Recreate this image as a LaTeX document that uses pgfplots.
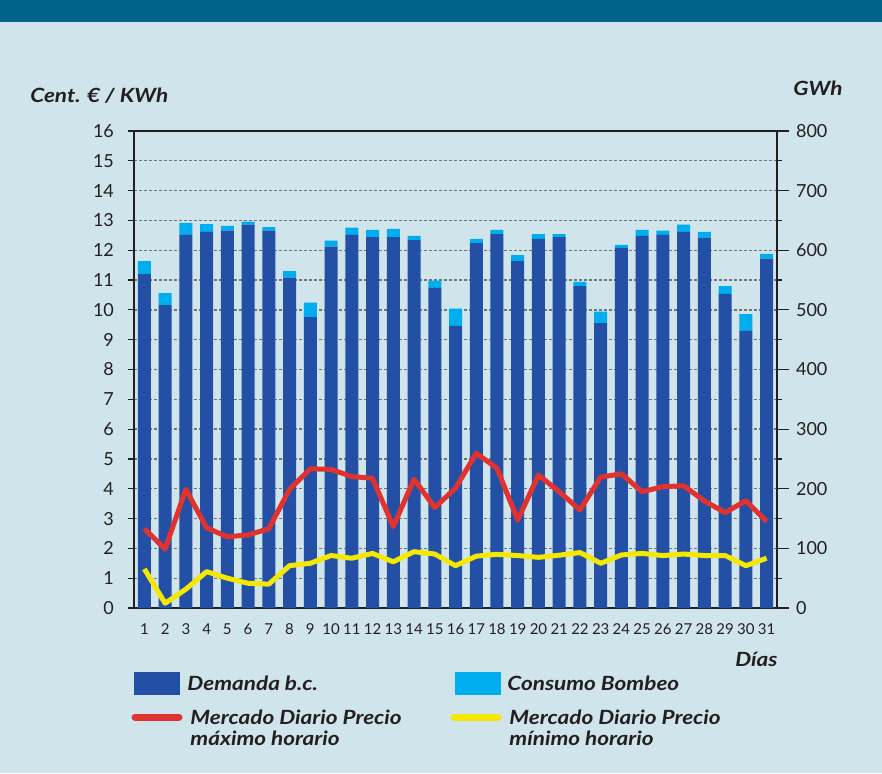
\documentclass[border=0pt]{standalone}
\usepackage{fontspec}
\setmainfont{Lato}
\newfontfamily\titlefont[FakeStretch=1.15]{Lato}
\usepackage{pgfplots}
\pgfplotsset{compat=1.18}
\definecolor{bgblue}{RGB}{208,228,236}
\definecolor{band}{RGB}{0,100,137}
\definecolor{demanda}{RGB}{35,80,165}
\definecolor{bombeo}{RGB}{0,174,239}
\definecolor{pmax}{RGB}{224,50,46}
\definecolor{pmin}{RGB}{245,232,0}
\definecolor{txt}{RGB}{35,31,32}
\definecolor{gridc}{RGB}{112,116,120}

% GWh por dia
\pgfplotstableread{
dia demanda bombeo
1 560 22
2 508 20
3 626 20
4 631 13
5 633 8
6 643 5
7 633 6
8 554 11
9 488 24
10 606 10
11 626 12
12 622 12
13 622 14
14 617 7
15 537 12
16 473 29
17 612 7
18 627 7
19 582 10
20 619 8
21 622 5
22 540 7
23 478 19
24 604 5
25 624 10
26 626 7
27 631 12
28 621 10
29 527 13
30 465 28
31 586 8
}\energia

% cent. euro / kWh
\pgfplotstableread{
dia pmax pmin
1 2.66 1.31
2 1.98 0.16
3 3.98 0.63
4 2.69 1.22
5 2.39 1.00
6 2.45 0.83
7 2.66 0.80
8 3.98 1.42
9 4.67 1.50
10 4.65 1.76
11 4.41 1.67
12 4.35 1.83
13 2.73 1.55
14 4.32 1.89
15 3.37 1.81
16 4.02 1.42
17 5.19 1.74
18 4.69 1.80
19 2.95 1.76
20 4.46 1.70
21 3.90 1.77
22 3.29 1.86
23 4.39 1.50
24 4.50 1.78
25 3.90 1.83
26 4.07 1.76
27 4.10 1.81
28 3.59 1.76
29 3.20 1.76
30 3.60 1.42
31 2.90 1.67
}\precios

\pgfplotsset{
  base/.style={
    scale only axis, width=321.5pt, height=238.5pt,
    at={(67pt,82.5pt)}, anchor=south west,
    xmin=0.5, xmax=31.5,
    /pgf/number format/assume math mode=true,
    ticklabel style={text=txt},
    axis line style={txt, line width=0.6pt},
    tick style={txt, line width=0.6pt},
  },
}

\begin{document}
\begin{tikzpicture}[x=1pt,y=1pt]
\fill[bgblue] (0,0) rectangle (441,386.5);
\fill[band] (0,375.5) rectangle (441,386.5);

% rejilla, eje izquierdo y eje de dias
\begin{axis}[base,
  ymin=0, ymax=16, ytick={0,...,16},
  ymajorgrids, grid style={gridc, line width=0.65pt, dash pattern=on 1.5pt off 1pt},
  xtick={1,...,31}, xtick style={draw=none},
  minor xtick={0.5,1.5,...,31.5},
  xtick pos=bottom, ytick pos=left, tick align=outside,
  major tick length=3pt, minor tick length=3.5pt,
  yticklabel style={font=\fontsize{9}{10}\selectfont, xshift=-3.5pt},
  xticklabel style={font=\fontsize{7.5}{9}\selectfont, yshift=-1.5pt},
]
\end{axis}

% barras (GWh)
\begin{axis}[base,
  ybar stacked, bar width=6.5pt,
  ymin=0, ymax=800,
  axis x line=none, axis y line*=right,
  ytick={0,100,...,800}, minor ytick={50,150,...,750},
  tick align=outside, major tick length=6pt, minor tick length=2.5pt,
  yticklabel style={font=\fontsize{9}{10}\selectfont},
]
\addplot[fill=demanda, draw=none] table[x=dia, y=demanda] {\energia};
\addplot[fill=bombeo, draw=none] table[x=dia, y=bombeo] {\energia};
\end{axis}

% precios
\begin{axis}[base, ymin=0, ymax=16, hide axis, clip=false]
\addplot[pmax, line width=2.5pt, line join=round, mark=none] table[x=dia, y=pmax] {\precios};
\addplot[pmin, line width=2.5pt, line join=round, mark=none] table[x=dia, y=pmin] {\precios};
\end{axis}

\begin{scope}[font=\titlefont\fontsize{9.8}{11}\selectfont\bfseries\itshape, text=txt, inner sep=0pt]
\node[anchor=west] at (15,338.5) {Cent. € / KWh};
\node[anchor=east] at (421.5,342.5) {GWh};
\node at (378.25,57) {Días};
\fill[demanda] (67,39) rectangle (90,50.5);
\node[anchor=west] at (93.5,45) {Demanda b.c.};
\fill[bombeo] (227.5,39) rectangle (250.5,50.5);
\node[anchor=west] at (253.5,45) {Consumo Bombeo};
\draw[pmax, line width=3.5pt, line cap=round] (67.5,28) -- (89.5,28);
\node[anchor=west] at (95,28) {Mercado Diario Precio};
\node[anchor=west] at (95,17.5) {máximo horario};
\draw[pmin, line width=3.5pt, line cap=round] (227,28) -- (249,28);
\node[anchor=west] at (254.5,28) {Mercado Diario Precio};
\node[anchor=west] at (254.5,17.5) {mínimo horario};
\end{scope}
\end{tikzpicture}
\end{document}
